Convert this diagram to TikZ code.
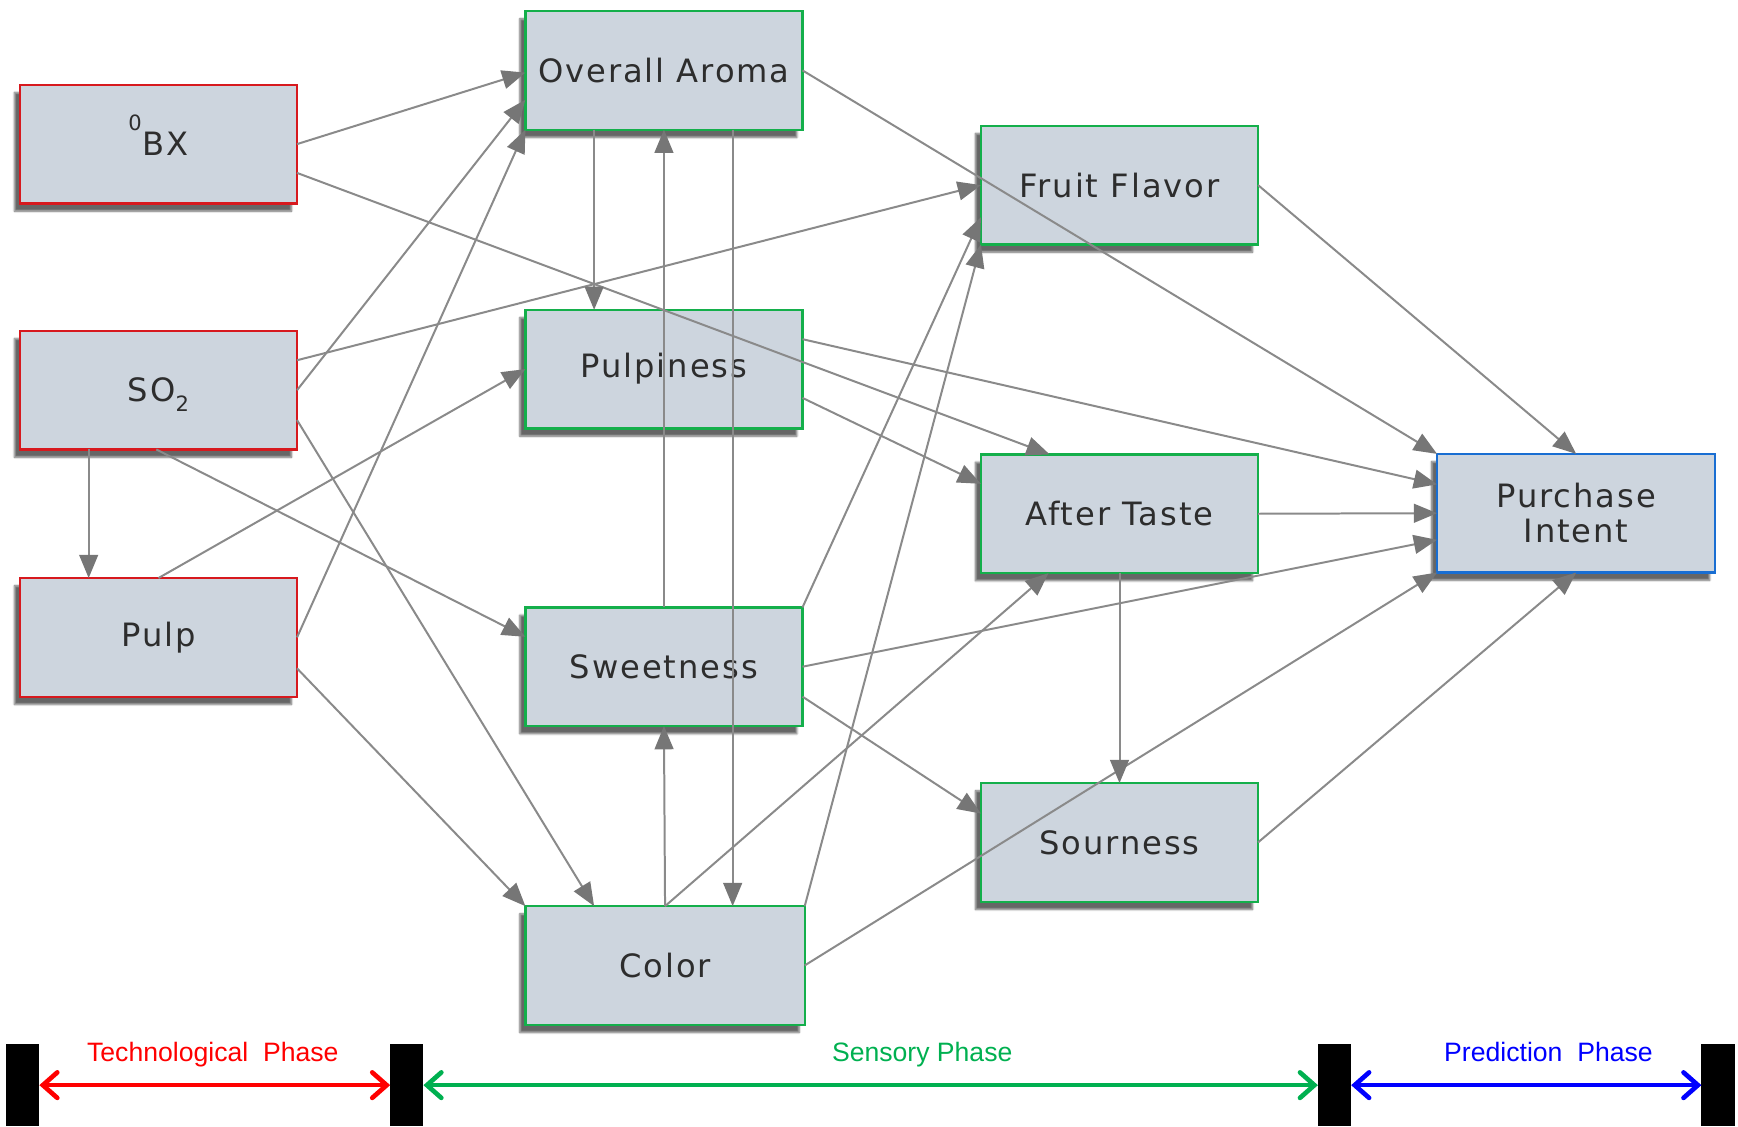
\documentclass[tikz,border=0pt]{standalone}
\usepackage{fontspec}
\newfontfamily\boxfont[LetterSpace=6]{DejaVu Sans}
\newfontfamily\plainbox{DejaVu Sans}
\newfontfamily\phasefont{Liberation Sans}
\usetikzlibrary{arrows.meta,shadows.blur}
\definecolor{boxfill}{RGB}{205,213,222}
\definecolor{textgray}{RGB}{45,45,45}
\definecolor{techred}{RGB}{215,25,30}
\definecolor{sensgreen}{RGB}{20,175,75}
\definecolor{predblue}{RGB}{25,110,210}
\definecolor{linkgray}{RGB}{138,138,138}
\definecolor{headgray}{RGB}{118,118,118}
\definecolor{phred}{RGB}{255,0,0}
\definecolor{phgreen}{RGB}{0,176,80}
\definecolor{phblue}{RGB}{0,0,255}
\tikzset{
  box/.style={draw, line width=2pt, fill=boxfill, minimum width=250pt,
    minimum height=107pt, inner sep=0pt, outer sep=0pt, align=center, text=textgray,
    font=\boxfont\fontsize{29}{32}\selectfont,
    blur shadow={shadow xshift=-5pt, shadow yshift=-7pt, shadow blur steps=6, shadow opacity=60}},
  techbox/.style={box, draw=techred},
  sensbox/.style={box, draw=sensgreen},
  predbox/.style={box, draw=predblue},
  link/.style={draw=linkgray, line width=1.8pt, -{Triangle[length=21pt,width=17pt,color=headgray]}},
  phasebar/.style={fill=black, draw=none, minimum width=30pt, minimum height=74pt, inner sep=0pt, outer sep=0pt},
  phasearrow/.style={line width=4.2pt, {Straight Barb[length=13pt,width=23pt,line cap=round]}-{Straight Barb[length=13pt,width=23pt,line cap=round]}},
  phaselabel/.style={font=\phasefont\fontsize{24}{28}\selectfont, anchor=base},
}
\begin{document}
\begin{tikzpicture}[x=1pt,y=-1pt]
\useasboundingbox (0,0) rectangle (1568,1016);
% nodes
\node[techbox] (BX) at (143,130) {\smash{\raisebox{23pt}{\plainbox\fontsize{19}{19}\selectfont 0}}\kern1pt BX};
\node[techbox] (SO2) at (143,352) {SO\smash{\raisebox{-9pt}{\plainbox\fontsize{19}{19}\selectfont 2}}};
\node[techbox] (Pulp) at (143,575) {Pulp};
\node[sensbox] (OA) at (599,63.5) {Overall Aroma};
\node[sensbox] (PP) at (599,333) {Pulpiness};
\node[sensbox] (SW) at (599,601.5) {Sweetness};
\node[sensbox, minimum width=252pt] (CO) at (600,871) {Color};
\node[sensbox] (FF) at (1010,167) {Fruit Flavor};
\node[sensbox] (AT) at (1010,463.5) {After Taste};
\node[sensbox] (SR) at (1010,760) {Sourness};
\node[predbox, minimum width=251pt] (PI) at (1422,463) {Purchase\\Intent};
% connectors
\draw[link] (BX.east) -- ([yshift=-2pt]OA.west);
\draw[link] ([yshift=-26pt]BX.east) -- ([xshift=-63pt]AT.north);
\draw[link] ([yshift=27pt]SO2.east) -- (FF.west);
\draw[link] (SO2.east) -- ([yshift=-26.5pt]OA.west);
\draw[link] ([yshift=-27pt]SO2.east) -- ([xshift=-64pt]CO.north);
\draw[link] ([xshift=-63pt]SO2.south) -- ([xshift=-63pt]Pulp.north);
\draw[link] ([xshift=-2pt]SO2.south) -- ([yshift=27pt]SW.west);
\draw[link] (Pulp.north) -- (PP.west);
\draw[link] (Pulp.east) -- (OA.south west);
\draw[link] ([yshift=-28pt]Pulp.east) -- (CO.north west);
\draw[link] ([xshift=-63pt]OA.south) -- ([xshift=-63pt]PP.north);
\draw[link] ([xshift=62pt]OA.south) -- ([xshift=61pt]CO.north);
\draw[link] (OA.east) -- (PI.north west);
\draw[link] (SW.north) -- (OA.south);
\draw[link] ([yshift=27pt]PP.east) -- ([yshift=26pt]PI.west);
\draw[link] ([yshift=-26pt]PP.east) -- ([yshift=27pt]AT.west);
\draw[link] (SW.north east) -- ([yshift=-29pt]FF.west);
\draw[link] (SW.east) -- ([yshift=-24pt]PI.west);
\draw[link] ([yshift=-27pt]SW.east) -- ([yshift=26pt]SR.west);
\draw[link] (CO.north) -- (SW.south);
\draw[link] (CO.north) -- ([xshift=-64pt]AT.south);
\draw[link] (CO.north east) -- (FF.south west);
\draw[link] (CO.east) -- (PI.south west);
\draw[link] (FF.east) -- (PI.north);
\draw[link] (AT.east) -- (PI.west);
\draw[link] (AT.south) -- (SR.north);
\draw[link] (SR.east) -- (PI.south);
% phases
\node[phasebar] (b1) at (20.5,979) {};
\node[phasebar] (b2) at (367,979) {};
\node[phasebar] (b3) at (1204,979) {};
\node[phasebar] (b4) at (1550,979) {};
\draw[phasearrow, phred] (b1.east) -- (b2.west);
\draw[phasearrow, phgreen] (b2.east) -- (b3.west);
\draw[phasearrow, phblue] (b3.east) -- (b4.west);
\node[phaselabel, text=phred] (t1) at (192,958) {Technological\ \ Phase};
\node[phaselabel, text=phgreen] (t2) at (832,958) {Sensory Phase};
\node[phaselabel, text=phblue] (t3) at (1397,958) {Prediction\ \ Phase};
\end{tikzpicture}
\end{document}
